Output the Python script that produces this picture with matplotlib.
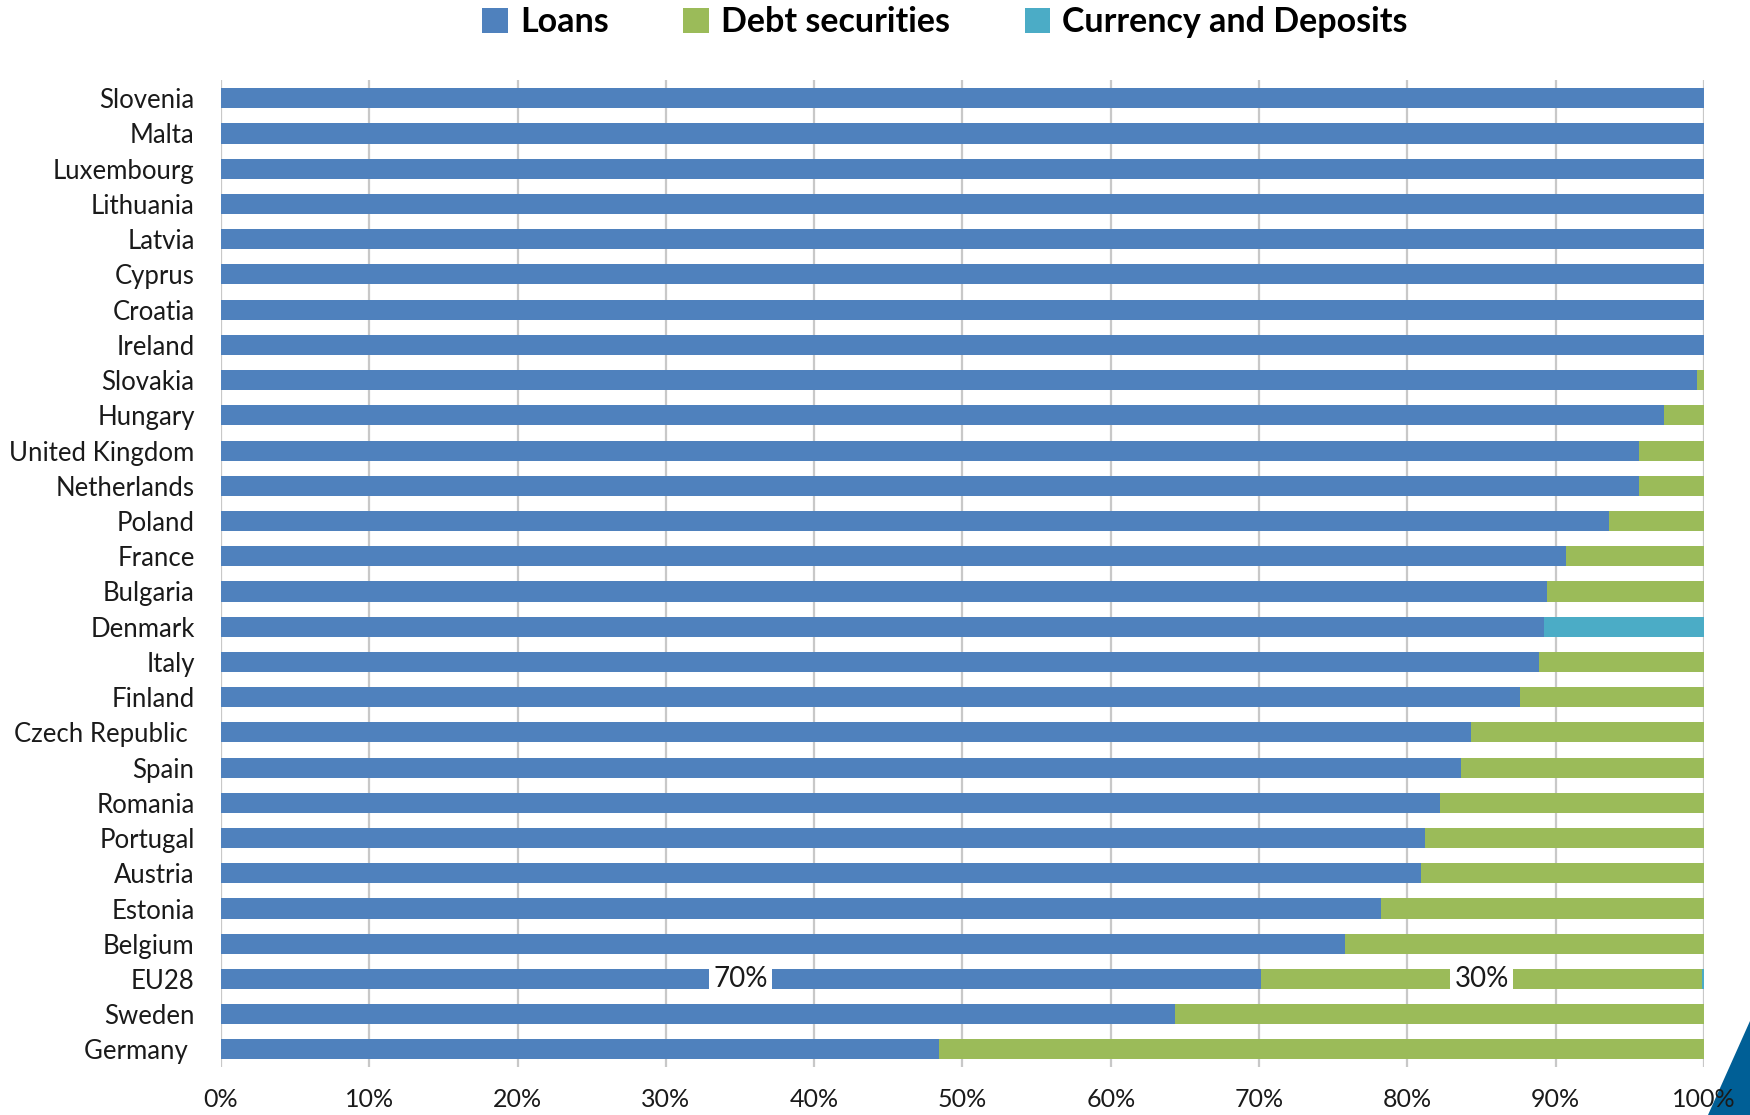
import matplotlib
matplotlib.use("Agg")
import matplotlib.pyplot as plt
from matplotlib.patches import Polygon, Patch
import numpy as np

plt.rcParams['font.family'] = ['Lato', 'DejaVu Sans']

countries = ["Slovenia", "Malta", "Luxembourg", "Lithuania", "Latvia", "Cyprus",
             "Croatia", "Ireland", "Slovakia", "Hungary", "United Kingdom",
             "Netherlands", "Poland", "France", "Bulgaria", "Denmark", "Italy",
             "Finland", "Czech Republic ", "Spain", "Romania", "Portugal",
             "Austria", "Estonia", "Belgium", "EU28", "Sweden", "Germany "]
loans = [100, 100, 100, 100, 100, 100, 100, 100, 99.5, 97.3, 95.6, 95.6, 93.6,
         90.7, 89.4, 89.2, 88.9, 87.6, 84.3, 83.6, 82.2, 81.2, 80.9, 78.2, 75.8,
         70.1, 64.3, 48.4]
debt = [0, 0, 0, 0, 0, 0, 0, 0, 0.5, 2.7, 4.4, 4.4, 6.4, 9.3, 10.6, 0, 11.1,
        12.4, 15.7, 16.4, 17.8, 18.8, 19.1, 21.8, 24.2, 29.8, 35.7, 51.6]
currency = [0, 0, 0, 0, 0, 0, 0, 0, 0, 0, 0, 0, 0, 0, 0, 10.8, 0, 0, 0, 0, 0,
            0, 0, 0, 0, 0.1, 0, 0]
series_names = ["Loans", "Debt securities", "Currency and Deposits"]
colors = ["#4f81bd", "#9bbb59", "#4bacc6"]
xticks = [0, 10, 20, 30, 40, 50, 60, 70, 80, 90, 100]
xticklabels = [f"{v}%" for v in xticks]

fig = plt.figure(figsize=(17.5, 11.15), dpi=100)
ax = fig.add_axes([0.1263, 0.043, 0.9737 - 0.1263, 0.9283 - 0.043])

y = np.arange(len(countries))
loans_a = np.array(loans)
debt_a = np.array(debt)
cur_a = np.array(currency)
h = 0.57
ax.barh(y, loans_a, height=h, color=colors[0], zorder=2)
ax.barh(y, debt_a, left=loans_a, height=h, color=colors[1], zorder=2)
ax.barh(y, cur_a, left=loans_a + debt_a, height=h, color=colors[2], zorder=2)

ax.set_xlim(0, 100)
ax.set_ylim(len(countries) - 0.5 + 0.0, -0.52)
ax.set_yticks(y)
ax.set_yticklabels(countries, fontsize=18.5, color="#1a1a1a")
ax.set_xticks(xticks)
ax.set_xticklabels(xticklabels, fontsize=18, color="#1a1a1a")
ax.tick_params(axis='y', length=0, pad=19)
ax.tick_params(axis='x', length=0, pad=15)
ax.grid(axis='x', color="#c8c8c8", linewidth=1.6, zorder=0)
for s in ax.spines.values():
    s.set_visible(False)

# EU28 labels
eu = countries.index("EU28")
ax.text(loans_a[eu] / 2, eu, f"{loans_a[eu]:.0f}%", ha='center', va='center',
        fontsize=20, color="#1a1a1a", zorder=3,
        bbox=dict(facecolor='white', edgecolor='none', pad=3))
ax.text(loans_a[eu] + debt_a[eu] / 2, eu, f"{100 - loans_a[eu]:.0f}%", ha='center',
        va='center', fontsize=20, color="#1a1a1a", zorder=3,
        bbox=dict(facecolor='white', edgecolor='none', pad=3))

handles = [Patch(facecolor=c, edgecolor='none') for c in colors]
fig.legend(handles, series_names, loc='center', bbox_to_anchor=(0.54, 0.98),
           ncol=3, frameon=False, prop={'weight': 'bold', 'size': 24.5},
           handlelength=0.75, handleheight=0.75, handletextpad=0.35,
           columnspacing=2.2)

# decorative corner triangle (behind the axes so tick labels stay on top)
tri = Polygon([[1.0, 1 - 1021 / 1115], [1.0, 0.0], [1708 / 1750, 0.0]],
              closed=True, transform=fig.transFigure, facecolor="#005f96",
              edgecolor='none', zorder=-1)
fig.patches.append(tri)
ax.patch.set_alpha(0)

fig.savefig("out.png", dpi=100)
